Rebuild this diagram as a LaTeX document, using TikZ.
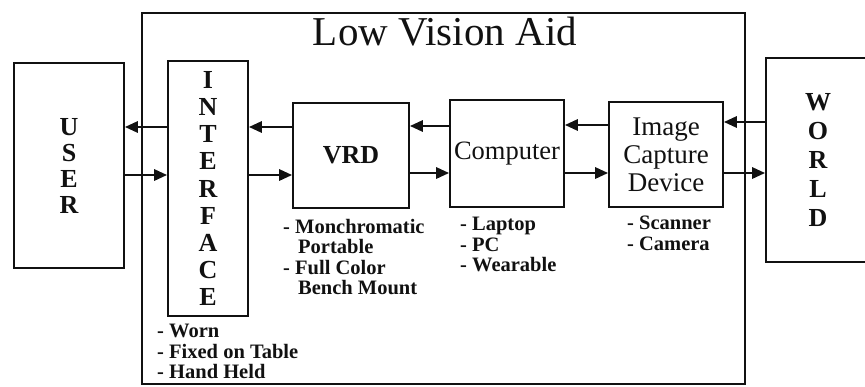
\documentclass[tikz,border=0pt]{standalone}
\usepackage{fontspec}
\setmainfont{Liberation Serif}
\usepackage{tikz}
\usetikzlibrary{arrows.meta}
\definecolor{ScanInk}{HTML}{111111}

\begin{document}
\begin{tikzpicture}[x=1pt,y=-1pt, every node/.style={text=ScanInk},
    box/.style={draw=ScanInk, line width=1.6pt, inner sep=0pt},
    flow/.style={draw=ScanInk, line width=2.8pt, -{Triangle[length=13pt,width=11pt]}},
    items/.style={anchor=north west, align=left, inner sep=0pt, font=\fontsize{20.5}{20.5}\selectfont\bfseries}]
  \useasboundingbox (0,0) rectangle (865,386);
  \clip (0,0) rectangle (865,386);
  \node[box, line width=2.4pt, minimum width=603pt, minimum height=371pt] (aid) at (443.5,198.5) {};
  \node[anchor=base, inner sep=0pt, font=\fontsize{41}{41}\selectfont] (title) at (445,45) {Low Vision Aid};
  \node[box, minimum width=110pt, minimum height=205pt, align=center,
        font=\fontsize{26}{26}\selectfont\bfseries] (user) at (69,165.5) {U\\S\\E\\R};
  \node[box, minimum width=80pt, minimum height=255pt, align=center,
        font=\fontsize{26}{27.2}\selectfont\bfseries] (iface) at (208,188.5) {I\\N\\T\\E\\R\\F\\A\\C\\E};
  \node[box, minimum width=116pt, minimum height=105pt, font=\fontsize{26}{26}\selectfont\bfseries] (vrd) at (351,155.5) {VRD};
  \node[box, minimum width=114pt, minimum height=107pt, font=\fontsize{26.5}{26.5}\selectfont] (comp) at (507,153.5) {Computer};
  \node[box, minimum width=114pt, minimum height=105pt, align=center,
        font=\fontsize{27}{28}\selectfont] (icd) at (666,154.5) {Image\\Capture\\Device};
  \node[box, minimum width=104pt, minimum height=204pt, align=center,
        font=\fontsize{26}{29}\selectfont\bfseries] (world) at (818,160) {W\\O\\R\\L\\D};
  % arrows between the blocks
  \draw[flow] (iface.west |- 0,127) -- (user.east |- 0,127);
  \draw[flow] (user.east |- 0,175) -- (iface.west |- 0,175);
  \draw[flow] (vrd.west |- 0,127) -- (iface.east |- 0,127);
  \draw[flow] (iface.east |- 0,175) -- (vrd.west |- 0,175);
  \draw[flow] (comp.west |- 0,126) -- (vrd.east |- 0,126);
  \draw[flow] (vrd.east |- 0,173) -- (comp.west |- 0,173);
  \draw[flow] (icd.west |- 0,125) -- (comp.east |- 0,125);
  \draw[flow] (comp.east |- 0,173) -- (icd.west |- 0,173);
  \draw[flow] (world.west |- 0,122) -- (icd.east |- 0,122);
  \draw[flow] (icd.east |- 0,173) -- (world.west |- 0,173);
  % options under each block
  \node[items] (ifaceopts) at (157,324) {- Worn\\- Fixed on Table\\- Hand Held};
  \node[items] (vrdopts) at (283,219) {- Monchromatic\\\hspace*{15pt}Portable\\- Full Color\\\hspace*{15pt}Bench Mount};
  \node[items] (compopts) at (460,217) {- Laptop\\- PC\\- Wearable};
  \node[items] (icdopts) at (627,216) {- Scanner\\- Camera};
\end{tikzpicture}
\end{document}
